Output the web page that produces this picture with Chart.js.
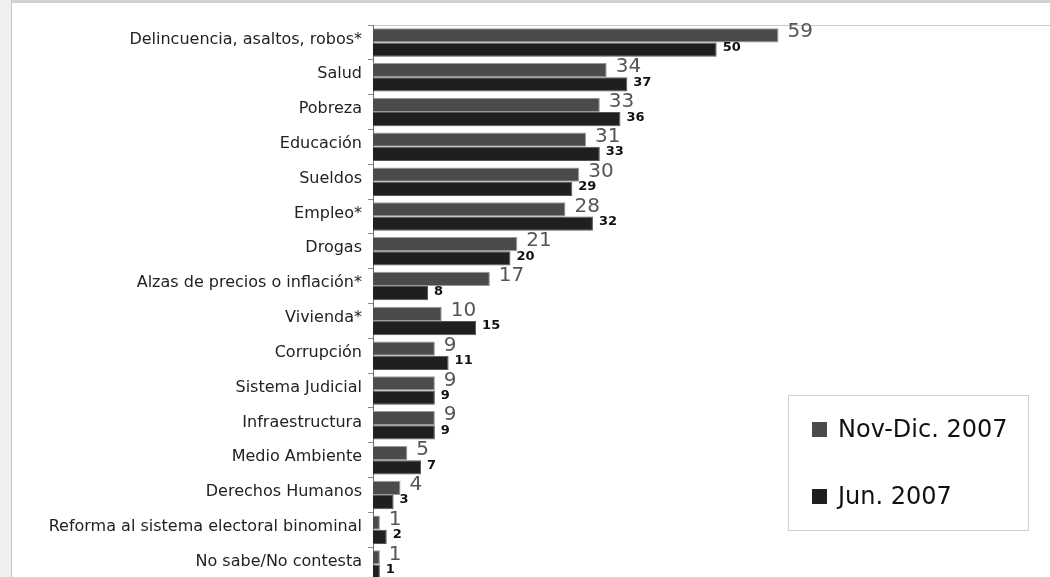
<!DOCTYPE html>
<html>
<head>
<meta charset="utf-8">
<script src="https://cdn.jsdelivr.net/npm/chart.js@4/dist/chart.umd.min.js"></script>
<style>
  html, body { margin: 0; padding: 0; width: 1050px; height: 577px; overflow: hidden; background: #efefef; }
  #frame { position: absolute; left: 11px; top: 0; width: 1100px; height: 700px; background: #ffffff;
           border-left: 1px solid #c4c4c4; border-top: 3px solid #d2d2d2; box-sizing: border-box; }
  #c { position: absolute; left: 0; top: 0; }
</style>
</head>
<body>
<div id="frame"></div>
<canvas id="c" width="1050" height="600"></canvas>
<script>
const categories = [
  "Delincuencia, asaltos, robos*",
  "Salud",
  "Pobreza",
  "Educación",
  "Sueldos",
  "Empleo*",
  "Drogas",
  "Alzas de precios o inflación*",
  "Vivienda*",
  "Corrupción",
  "Sistema Judicial",
  "Infraestructura",
  "Medio Ambiente",
  "Derechos Humanos",
  "Reforma al sistema electoral binominal",
  "No sabe/No contesta"
];
const seriesNames = ["Nov-Dic. 2007", "Jun. 2007"];
const novDic2007 = [59, 34, 33, 31, 30, 28, 21, 17, 10, 9, 9, 9, 5, 4, 1, 1];
const jun2007   = [50, 37, 36, 33, 29, 32, 20, 8, 15, 11, 9, 9, 7, 3, 2, 1];

const FONT = "'DejaVu Sans', Verdana, sans-serif";

const valueLabels = {
  id: 'valueLabels',
  afterDatasetsDraw(chart) {
    const ctx = chart.ctx;
    ctx.save();
    chart.data.datasets.forEach((ds, di) => {
      const meta = chart.getDatasetMeta(di);
      meta.data.forEach((el, i) => {
        const v = ds.data[i];
        ctx.textAlign = 'left';
        ctx.textBaseline = 'middle';
        if (di === 0) {
          ctx.font = "20px " + FONT;
          ctx.fillStyle = '#555555';
          ctx.fillText(String(v), el.x + 9, el.y - 3);
        } else {
          ctx.font = "bold 13px " + FONT;
          ctx.fillStyle = '#111111';
          ctx.fillText(String(v), el.x + 6, el.y - 2);
        }
      });
    });
    ctx.restore();
  }
};

const boxLegend = {
  id: 'boxLegend',
  afterDraw(chart) {
    const ctx = chart.ctx;
    ctx.save();
    ctx.fillStyle = '#ffffff';
    ctx.fillRect(788, 395, 240, 135);
    ctx.strokeStyle = '#cfcfcf';
    ctx.lineWidth = 1;
    ctx.strokeRect(788.5, 395.5, 240, 135);
    const rows = [437, 504];
    chart.data.datasets.forEach((ds, i) => {
      const base = rows[i];
      ctx.fillStyle = ds.backgroundColor;
      ctx.fillRect(812, base - 15, 15, 15);
      ctx.fillStyle = '#111111';
      ctx.font = "24px " + FONT;
      ctx.textAlign = 'left';
      ctx.textBaseline = 'alphabetic';
      ctx.fillText(ds.label, 838, base);
    });
    ctx.restore();
  }
};

new Chart(document.getElementById('c'), {
  type: 'bar',
  data: {
    labels: categories,
    datasets: [
      { label: seriesNames[0], data: novDic2007, backgroundColor: '#4b4b4b', borderColor: '#9a9a9a', borderWidth: 1 },
      { label: seriesNames[1], data: jun2007, backgroundColor: '#1f1f1f', borderColor: '#555555', borderWidth: 1 }
    ]
  },
  options: {
    indexAxis: 'y',
    responsive: false,
    animation: false,
    layout: { padding: { left: 12, top: 25, right: 0, bottom: 18 } },
    datasets: { bar: { categoryPercentage: 0.82, barPercentage: 1.0 } },
    plugins: { legend: { display: false }, tooltip: { enabled: false } },
    scales: {
      x: {
        position: 'top',
        min: 0, max: 98.5,
        ticks: { display: false },
        grid: { display: false, drawTicks: false },
        border: { display: true, color: '#c8c8c8', width: 1 },
        afterFit(s) { s.height = 0; }
      },
      y: {
        grid: { display: true, drawOnChartArea: false, drawTicks: true, tickLength: 5, color: '#8a8a8a', offset: true },
        border: { display: true, color: '#6a6a6a', width: 1 },
        ticks: { color: '#222222', font: { family: FONT, size: 16 }, padding: 6, labelOffset: -3, autoSkip: false },
        afterFit(s) { s.width = 361; }
      }
    }
  },
  plugins: [valueLabels, boxLegend]
});
</script>
</body>
</html>
